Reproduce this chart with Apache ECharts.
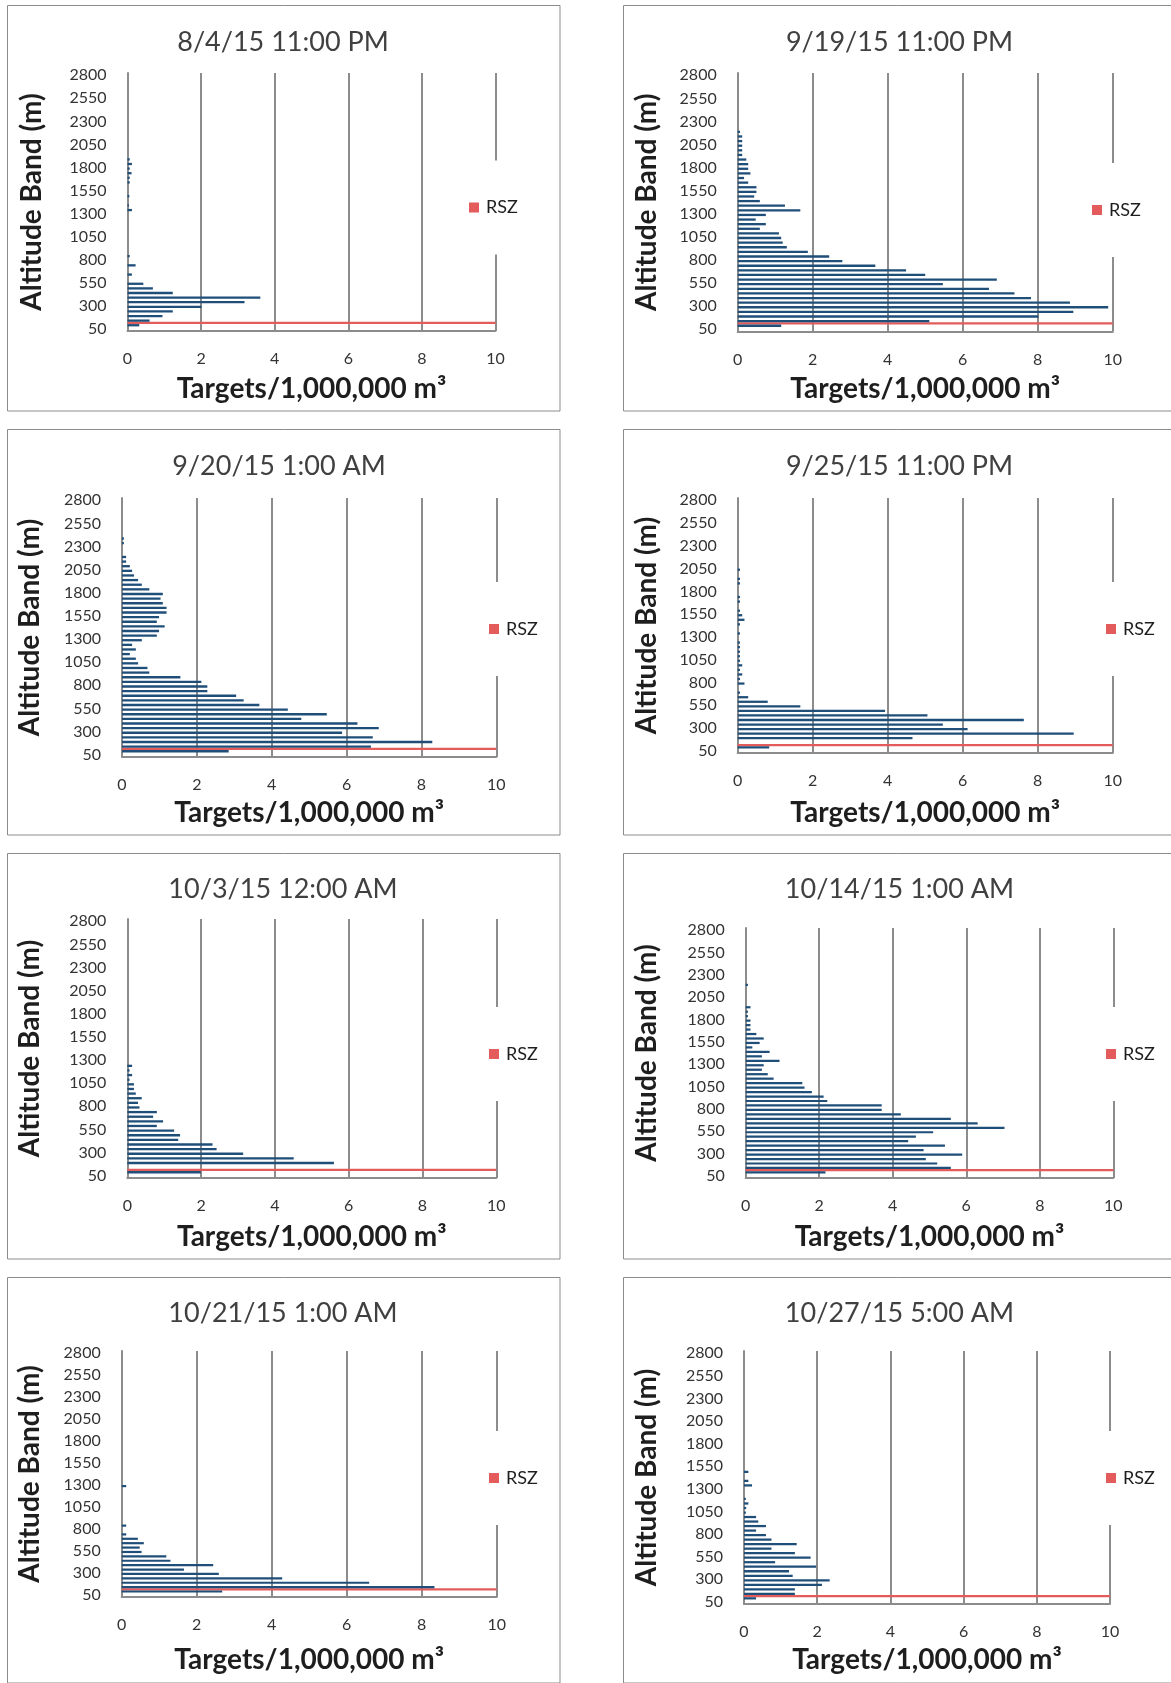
<!DOCTYPE html>
<html><head><meta charset="utf-8">
<script src="https://cdn.jsdelivr.net/npm/echarts@6/dist/echarts.min.js"></script>
<style>html,body{margin:0;padding:0;background:#fff}#c{width:1171px;height:1683px}</style>
</head><body><div id="c"></div>
<script>
// ---------- DATA ----------
const altitudes = ['50','100','150','200','250','300','350','400','450','500','550','600','650','700','750','800','850','900','950','1000','1050','1100','1150','1200','1250','1300','1350','1400','1450','1500','1550','1600','1650','1700','1750','1800','1850','1900','1950','2000','2050','2100','2150','2200','2250','2300','2350','2400','2450','2500','2550','2600','2650','2700','2750','2800'];
const panelTitles = ['8/4/15 11:00 PM','9/19/15 11:00 PM','9/20/15 1:00 AM','9/25/15 11:00 PM','10/3/15 12:00 AM','10/14/15 1:00 AM','10/21/15 1:00 AM','10/27/15 5:00 AM'];
const xTicks = [0, 2, 4, 6, 8, 10];
const rszBand = '100';
const rszValue = 10;

const t0804 = [0,0.32,0.60,0.95,1.23,2.01,3.18,3.61,1.23,0.69, 0.43,0,0.12,0,0.22,0,0.06,0,0,0, 0,0,0,0,0,0,0.12,0.04,0,0.05, 0,0,0.06,0.06,0.11,0.06,0.12,0.06,0,0, 0,0,0,0,0,0,0,0,0,0, 0,0,0,0,0,0];
const t0919 = [0,1.16,5.11,8.02,8.95,9.88,8.86,7.82,7.38,6.70, 5.47,6.91,5.00,4.49,3.67,2.79,2.44,1.87,1.31,1.20, 1.16,1.10,0.59,0.75,0.48,0.75,1.67,1.26,0.59,0.44, 0.50,0.50,0.28,0.17,0.34,0.28,0.28,0.23,0.12,0.12, 0.12,0.12,0.12,0.06,0,0,0,0,0,0, 0,0,0,0,0,0];
const t0920 = [0,2.85,6.65,8.29,6.70,5.88,6.86,6.29,4.79,5.47, 4.43,3.67,3.25,3.05,2.28,2.28,2.12,1.56,0.73,0.68, 0.43,0.37,0.21,0.37,0.27,0.53,0.93,0.99,1.14,0.93, 0.99,1.19,1.19,1.09,1.03,1.09,0.73,0.53,0.43,0.32, 0.27,0.21,0.11,0.11,0,0,0.05,0.05,0,0, 0,0,0,0,0,0];
const t0925 = [0,0.84,0,4.66,8.96,6.13,5.47,7.63,5.06,3.93, 1.67,0.80,0.28,0.06,0,0.18,0.06,0.12,0.06,0.12, 0.06,0.06,0.06,0.06,0.06,0,0.06,0,0.06,0.18, 0.12,0.06,0,0.06,0.06,0,0,0.06,0.06,0, 0.06,0,0,0,0,0,0,0,0,0, 0,0,0,0,0,0];
const t1003 = [0,1.99,0,5.60,4.51,3.14,2.42,2.31,1.38,1.43, 1.27,0.80,0.97,0.70,0.80,0.33,0.29,0.39,0.23,0.18, 0.18,0.06,0.13,0.06,0.13,0,0,0,0,0, 0,0,0,0,0,0,0,0,0,0, 0,0,0,0,0,0,0,0,0,0, 0,0,0,0,0,0];
const t1014 = [0,2.17,5.58,5.21,4.90,5.89,4.84,5.42,4.42,4.63, 5.10,7.04,6.31,5.58,4.22,3.70,3.70,2.22,2.12,1.80, 1.60,1.54,0.76,0.60,0.44,0.49,0.92,0.44,0.65,0.18, 0.38,0.49,0.29,0.13,0.13,0.13,0.06,0.06,0.13,0, 0,0,0,0.06,0,0,0,0,0,0, 0,0,0,0,0,0];
const t1021 = [0,2.68,8.34,6.60,4.28,2.59,1.66,2.44,1.30,1.19, 0.53,0.48,0.59,0.43,0.12,0,0.12,0,0,0, 0,0,0,0,0,0.12,0,0,0,0, 0,0,0,0,0,0,0,0,0,0, 0,0,0,0,0,0,0,0,0,0, 0,0,0,0,0,0];
const t1027 = [0,0.33,1.39,1.39,2.13,2.34,1.33,1.23,1.97,0.85, 1.82,1.39,0.75,1.44,0.75,0.60,0.33,0.60,0.39,0.33, 0.05,0.06,0.12,0.05,0,0,0.22,0.12,0,0.12, 0,0,0,0,0,0,0,0,0,0, 0,0,0,0,0,0,0,0,0,0, 0,0,0,0,0,0];
const targetSeries = [t0804, t0919, t0920, t0925, t1003, t1014, t1021, t1027];

// ---------- LAYOUT (positions / styles) ----------
const layout = [
  {gl:127.5, gr:495.5, gt:73,  gb:331,  tx:283,   ty:44,   lx:474,  ly:207.5,ycx:32,  xcy:388.5, fx:7.5,   fy:5.5},
  {gl:737.7, gr:1112.7,gt:73,  gb:331.5,tx:899.5, ty:44,   lx:1097, ly:210,  ycx:647, xcy:388.5, fx:623.5, fy:5.5},
  {gl:122,   gr:496.3, gt:498, gb:757,  tx:279,   ty:468,  lx:494,  ly:629,  ycx:30,  xcy:812.5, fx:7.5,   fy:429.5},
  {gl:737.7, gr:1112.7,gt:498, gb:753,  tx:899.5, ty:468,  lx:1111, ly:629,  ycx:647, xcy:812.5, fx:623.5, fy:429.5},
  {gl:127.3, gr:496.3, gt:919, gb:1178, tx:283,   ty:891,  lx:494,  ly:1054, ycx:30,  xcy:1236.5,fx:7.5,   fy:853.5},
  {gl:745.7, gr:1113.3,gt:928, gb:1178, tx:899.5, ty:891,  lx:1111, ly:1054, ycx:647, xcy:1236.5,fx:623.5, fy:853.5},
  {gl:121.7, gr:496.7, gt:1351,gb:1597, tx:283,   ty:1315, lx:494,  ly:1478, ycx:30,  xcy:1660.4,fx:7.5,   fy:1277.5},
  {gl:744,   gr:1110,  gt:1351,gb:1604, tx:899.5, ty:1315, lx:1111, ly:1478, ycx:647, xcy:1660.4,fx:623.5, fy:1277.5}
];
const FONT = 'Lato';
const GRID_COLOR = '#8c8c8c';
const BLUE = '#1f4e79';
const RED = '#e35b5b';
const TITLE_SIZE = 27, NAME_SIZE = 28, TICK_SIZE = 16, LEGEND_SIZE = 18;

const rszData = altitudes.map(a => a === rszBand ? rszValue : null);

const grids = [], xAxes = [], yAxes = [], series = [], titles = [], legends = [], graphics = [];
layout.forEach((p, i) => {
  grids.push({left:p.gl, top:p.gt, width:p.gr - p.gl, height:p.gb - p.gt, containLabel:false, outerBoundsMode:'none'});
  xAxes.push({
    type:'value', gridIndex:i, min:xTicks[0], max:xTicks[xTicks.length-1], interval:xTicks[1]-xTicks[0],
    name:'Targets/1,000,000 m³', nameLocation:'middle', nameGap:(p.xcy - p.gb) - NAME_SIZE/2,
    nameTextStyle:{fontFamily:FONT, fontWeight:'bold', fontSize:NAME_SIZE, color:'#1e1e1e'},
    axisLine:{show:true, onZero:false, lineStyle:{color:GRID_COLOR, width:2}},
    axisTick:{show:false},
    axisLabel:{margin:20, fontSize:TICK_SIZE, fontFamily:FONT, color:'#333333'},
    splitLine:{show:true, lineStyle:{color:GRID_COLOR, width:2}}
  });
  yAxes.push({
    type:'category', gridIndex:i, data:altitudes, boundaryGap:true,
    name:'Altitude Band (m)', nameLocation:'middle', nameRotate:90, nameGap:(p.gl - p.ycx) - NAME_SIZE/2,
    nameTextStyle:{fontFamily:FONT, fontWeight:'bold', fontSize:NAME_SIZE, color:'#1e1e1e'},
    axisLine:{show:true, lineStyle:{color:GRID_COLOR, width:2}},
    axisTick:{show:false},
    axisLabel:{interval:4, margin:21, fontSize:TICK_SIZE, fontFamily:FONT, color:'#333333'},
    splitLine:{show:false}
  });
  series.push({type:'bar', name:'RSZ', xAxisIndex:i, yAxisIndex:i, data:rszData,
    itemStyle:{color:RED}, barGap:'0%', barCategoryGap:'0%', silent:true});
  series.push({type:'bar', name:'Targets', xAxisIndex:i, yAxisIndex:i, data:targetSeries[i],
    itemStyle:{color:BLUE}, barGap:'0%', barCategoryGap:'0%', silent:true});
  titles.push({text:panelTitles[i], left:p.tx, top:p.ty - TITLE_SIZE/2 - 2, textAlign:'center', padding:0,
    textStyle:{fontFamily:FONT, fontWeight:'normal', fontSize:TITLE_SIZE, color:'#404040'}});
  legends.push({data:['RSZ'], left:p.lx - 11, top:p.ly - 38 - LEGEND_SIZE/2, orient:'vertical', padding:[38,6,38,6],
    z:20, backgroundColor:'#ffffff', itemWidth:10, itemHeight:10, icon:'rect', selectedMode:false,
    textStyle:{fontFamily:FONT, fontSize:LEGEND_SIZE, color:'#1e1e1e', padding:[0,0,0,2]}});
  // white legend area that interrupts the gridlines, as in the original
  graphics.push({type:'rect', silent:true, z:10,
    shape:{x:p.lx - 12, y:p.ly - 46.5, width:62, height:93},
    style:{fill:'#ffffff', stroke:null}});
  graphics.push({type:'rect', silent:true, z:-10,
    shape:{x:p.fx, y:p.fy, width:p.fx < 100 ? 552.5 : 560, height:405.5},
    style:{fill:'none', stroke:'#8c8c8c', lineWidth:1}});
});

const chart = echarts.init(document.getElementById('c'), null, {renderer:'canvas'});
chart.setOption({
  animation:false,
  backgroundColor:'#ffffff',
  title:titles, grid:grids, xAxis:xAxes, yAxis:yAxes, series:series, legend:legends,
  tooltip:{show:false},
  graphic:{elements:graphics}
});
</script>
</body></html>
